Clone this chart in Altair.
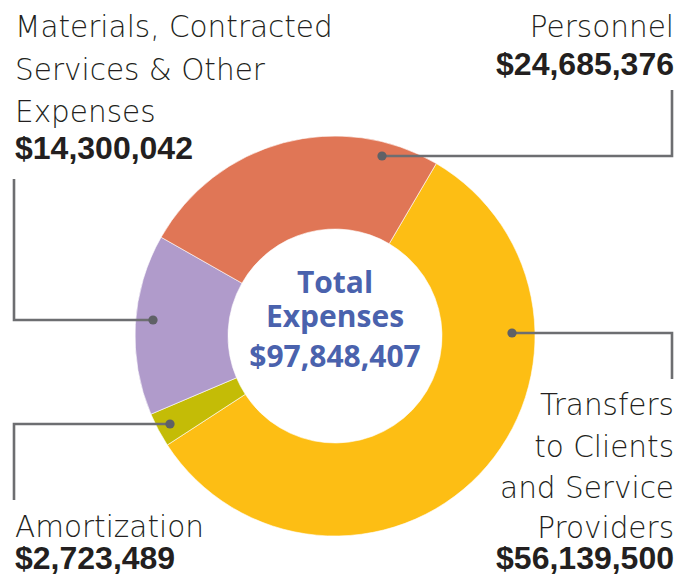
import altair as alt
import pandas as pd

# ---- data ----
categories = ["Transfers to Clients and Service Providers", "Amortization",
              "Materials, Contracted Services & Other Expenses", "Personnel"]
values = [56139500, 2723489, 14300042, 24685376]
colors = ["#FDBE14", "#C4BC06", "#B09BCB", "#E07656"]
total_label = ["Total", "Expenses", "$97,848,407"]

# label texts (lines) and formatted values
label_lines = {
    "Personnel": ["Personnel"],
    "Materials, Contracted Services & Other Expenses": ["Materials, Contracted", "Services & Other", "Expenses"],
    "Amortization": ["Amortization"],
    "Transfers to Clients and Service Providers": ["Transfers", "to Clients ", "and Service", "Providers "],
}
value_text = {c: "${:,}".format(v) for c, v in zip(categories, values)}

# ---- layout (page pixels) ----
W, H = 676, 566
OFF = 8
CX, CY = 335, 336
R_OUT, R_IN = 200, 107
START = 0.531  # radians from 12 o'clock

label_pos = {
    "Personnel": dict(x=674, ys=[37], vy=75, align="right"),
    "Materials, Contracted Services & Other Expenses": dict(x=15, ys=[37, 80, 122], vy=159, align="left"),
    "Amortization": dict(x=15, ys=[537], vy=569, align="left"),
    "Transfers to Clients and Service Providers": dict(x=674, ys=[415, 457, 498, 538], vy=569, align="right"),
}
leaders = {
    "Personnel": [(382, 156), (672, 156), (672, 90)],
    "Materials, Contracted Services & Other Expenses": [(153, 320), (14, 320), (14, 179)],
    "Amortization": [(170, 424), (14, 424), (14, 500)],
    "Transfers to Clients and Service Providers": [(512, 333), (672, 333), (672, 379)],
}
center_ys = [293, 327, 367]

xs = alt.Scale(domain=[OFF, OFF + W], range=[0, W], nice=False, zero=False)
ys = alt.Scale(domain=[OFF, OFF + H], range=[0, H], nice=False, zero=False)

pie_df = pd.DataFrame({"cat": categories, "val": values, "ord": list(range(len(categories)))})

arc = alt.Chart(pie_df).mark_arc(
    innerRadius=R_IN, outerRadius=R_OUT, stroke="white", strokeWidth=0.6
).encode(
    x=alt.value(CX - OFF), y=alt.value(CY - OFF),
    theta=alt.Theta("val:Q", stack=True, scale=alt.Scale(range=[START, START + 6.283185307])),
    order=alt.Order("ord:Q"),
    color=alt.Color("cat:N", scale=alt.Scale(domain=categories, range=colors), legend=None),
)

# leader lines
lrows = []
for c in categories:
    for i, (px, py) in enumerate(leaders[c]):
        lrows.append({"cat": c, "i": i, "px": px, "py": py})
ldf = pd.DataFrame(lrows)
lines = alt.Chart(ldf).mark_line(color="#6D6E71", strokeWidth=2.6, strokeCap="butt").encode(
    x=alt.X("px:Q", scale=xs, axis=None),
    y=alt.Y("py:Q", scale=ys, axis=None),
    detail="cat:N", order="i:Q",
)
dots = alt.Chart(ldf[ldf.i == 0]).mark_point(filled=True, size=85, color="#5F6166", opacity=1).encode(
    x=alt.X("px:Q", scale=xs, axis=None),
    y=alt.Y("py:Q", scale=ys, axis=None),
)

# category labels
trows = []
vrows = []
for c in categories:
    p = label_pos[c]
    for line, yy in zip(label_lines[c], p["ys"]):
        trows.append({"t": line, "px": p["x"], "py": yy, "al": p["align"]})
    vrows.append({"t": value_text[c], "px": p["x"], "py": p["vy"], "al": p["align"]})
tdf = pd.DataFrame(trows)
vdf = pd.DataFrame(vrows)

def text_layer(df, align, **kw):
    return alt.Chart(df[df.al == align]).mark_text(align=align, baseline="alphabetic", **kw).encode(
        x=alt.X("px:Q", scale=xs, axis=None),
        y=alt.Y("py:Q", scale=ys, axis=None),
        text="t:N",
    )

lab_style = dict(font="DejaVu Sans", fontSize=29.5, fontWeight=200, color="#231F20")
val_style = dict(font="Liberation Sans", fontSize=32, fontWeight="bold", color="#231F20")

cdf = pd.DataFrame({"t": total_label, "px": [CX] * 3, "py": center_ys, "fs": [30, 30, 30]})
center = alt.Chart(cdf).mark_text(
    align="center", baseline="alphabetic", font="Open Sans", fontWeight="bold", color="#4A62AD"
).encode(
    x=alt.X("px:Q", scale=xs, axis=None),
    y=alt.Y("py:Q", scale=ys, axis=None),
    size=alt.Size("fs:Q", scale=None, legend=None),
    text="t:N",
)

chart = alt.layer(
    arc, lines, dots,
    text_layer(tdf, "left", **lab_style), text_layer(tdf, "right", **lab_style),
    text_layer(vdf, "left", **val_style), text_layer(vdf, "right", **val_style),
    center,
).properties(width=W, height=H, padding=0, autosize="none").configure_view(stroke=None)

chart.save("out.html", embed_options={"renderer": "svg", "actions": False})
